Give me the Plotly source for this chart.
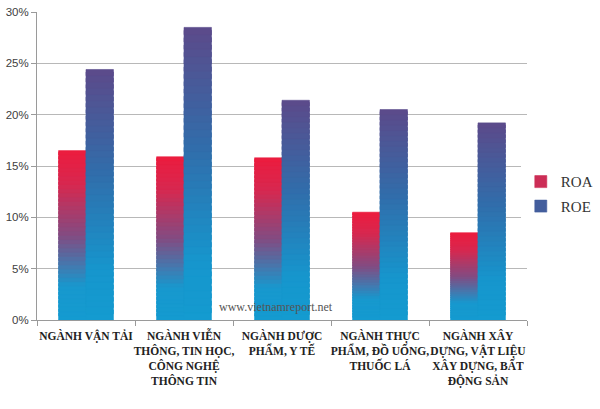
import plotly.graph_objects as go

categories = [
    "NGÀNH VẬN TẢI",
    "NGÀNH VIỄN<br>THÔNG, TIN HỌC,<br>CÔNG NGHỆ<br>THÔNG TIN",
    "NGÀNH DƯỢC<br>PHẨM, Y TẾ",
    "NGÀNH THỰC<br>PHẨM, ĐỒ UỐNG,<br>THUỐC LÁ",
    "NGÀNH XÂY<br>DỰNG, VẬT LIỆU<br>XÂY DỰNG, BẤT<br>ĐỘNG SẢN",
]
roa = [16.5, 15.9, 15.8, 10.5, 8.5]
roe = [24.4, 28.5, 21.4, 20.5, 19.2]
y_ticks = [0, 5, 10, 15, 20, 25, 30]
y_tick_labels = ["0%", "5%", "10%", "15%", "20%", "25%", "30%"]

N = 40


def lerp(c1, c2, t):
    return tuple(int(round(a + (b - a) * t)) for a, b in zip(c1, c2))


def grad(stops, t):
    for (t0, c0), (t1, c1) in zip(stops, stops[1:]):
        if t <= t1:
            f = 0 if t1 == t0 else (t - t0) / (t1 - t0)
            return "rgb(%d,%d,%d)" % lerp(c0, c1, max(0, min(1, f)))
    return "rgb(%d,%d,%d)" % stops[-1][1]


roa_stops = [(0.0, (20, 155, 208)), (0.2, (24, 152, 206)), (0.5, (130, 76, 130)), (0.8, (215, 40, 80)), (1.0, (236, 28, 62))]
roe_stops = [(0.0, (20, 155, 208)), (0.2, (22, 150, 205)), (0.6, (50, 108, 170)), (1.0, (92, 74, 138))]

fig = go.Figure()
for name, vals, stops, grp in [("ROA", roa, roa_stops, "a"), ("ROE", roe, roe_stops, "b")]:
    for i in range(N):
        t = (i + 0.5) / N
        col = grad(stops, t)
        fig.add_trace(go.Bar(
            x=categories,
            y=[v / N * (1.6 if i < N - 1 else 1.0) for v in vals],
            base=[v * i / N for v in vals],
            offsetgroup=grp,
            marker=dict(color=col, line=dict(width=0.6, color=col)),
            name=name,
            legendgroup=name,
            showlegend=(i == int(N * 0.75)),
            hoverinfo="skip",
        ))

fig.update_layout(
    width=600, height=409,
    margin=dict(l=37, r=73, t=12, b=89, autoexpand=False),
    paper_bgcolor="white", plot_bgcolor="white",
    barmode="group", bargap=0.44, bargroupgap=0,
    showlegend=True,
    legend=dict(x=0.868, y=0.526, xref="container", yref="container",
                xanchor="left", yanchor="middle",
                font=dict(family="Liberation Serif", size=15, color="#333333"),
                tracegroupgap=2, itemwidth=30),
    xaxis=dict(
        tickfont=dict(family="Liberation Serif", size=11.5, color="#222222", weight="bold"),
        tickson="boundaries", ticks="outside", ticklen=5, tickcolor="#9a9a9a",
        ticklabelstandoff=5,
        showline=True, linecolor="#9a9a9a", linewidth=1, tickangle=0, automargin=False,
    ),
    yaxis=dict(
        range=[0, 30], tickvals=y_ticks, ticktext=y_tick_labels,
        tickfont=dict(family="Liberation Sans", size=11.5, color="#404040"),
        showgrid=True, gridcolor="#b8b8b8", gridwidth=1,
        ticks="outside", ticklen=5, tickcolor="#9a9a9a",
        showline=True, linecolor="#9a9a9a", linewidth=1, zeroline=False, automargin=False,
    ),
    annotations=[dict(
        text="www.vietnamreport.net", x=0.488, y=0.012, xref="paper", yref="paper",
        showarrow=False, font=dict(family="Liberation Serif", size=12, color="#555555"),
    )],
)

fig.write_html("out.html", config={"displayModeBar": False},
               post_script="document.body.style.margin='0';")
